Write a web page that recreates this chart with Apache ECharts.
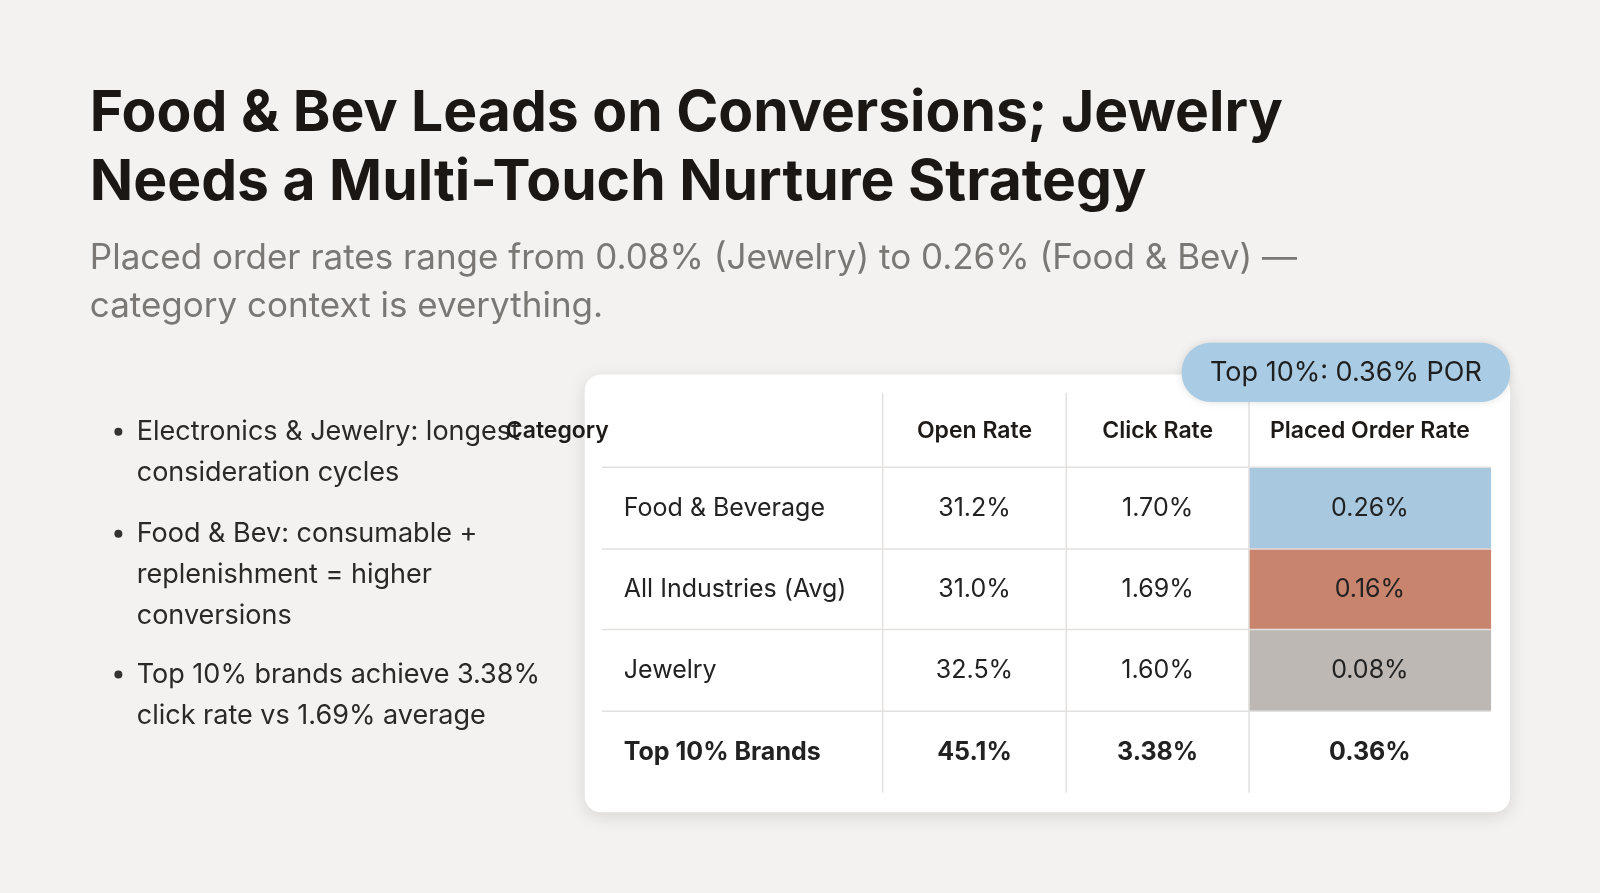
<!DOCTYPE html><html><head><meta charset="utf-8">
<script src="https://cdn.jsdelivr.net/npm/echarts@6/dist/echarts.min.js"></script>
<style>html,body{margin:0;background:#f3f2f0}#c{width:1600px;height:893px}</style></head><body><div id="c"></div>
<script>
const headers=['Category','Open Rate','Click Rate','Placed Order Rate'];
const categories=['Food & Beverage','All Industries (Avg)','Jewelry','Top 10% Brands'];
const openRate=[31.2,31.0,32.5,45.1];
const clickRate=[1.70,1.69,1.60,3.38];
const placedOrderRate=[0.26,0.16,0.08,0.36];
const porColors=['#a8c8df','#c9846d','#bdb8b4','#ffffff'];
const bullets=['Electronics & Jewelry: longest\nconsideration cycles','Food & Bev: consumable +\nreplenishment = higher\nconversions','Top 10% brands achieve 3.38%\nclick rate vs 1.69% average'];
(function(){
const S=1600/1568;
const colBounds=[590,865,1045,1224,1461].map(v=>v*S);
const tTop=458*S,tBot=777*S;
const F='Inter, "Noto Sans", sans-serif';
const chart=echarts.init(document.getElementById('c'));
const cols=[categories,openRate.map(v=>v.toFixed(1)+'%'),clickRate.map(v=>v.toFixed(2)+'%'),placedOrderRate.map(v=>v.toFixed(2)+'%')];
const grids=[],xA=[],yA=[],series=[];
for(let c=0;c<4;c++){
  grids.push({left:colBounds[c],width:colBounds[c+1]-colBounds[c],top:tTop,height:tBot-tTop});
  xA.push({type:'category',gridIndex:c,position:'top',data:[headers[c]],axisLine:{show:false},axisTick:{show:false},
    axisLabel:{margin:25,fontFamily:F,fontSize:23,fontWeight:600,color:'#1d1a18',align:c===0?'left':'center',padding:c===0?[0,0,0,-(colBounds[1]-colBounds[0])+44]:0}});
  yA.push({type:'category',gridIndex:c,inverse:true,data:categories,show:false});
  series.push({type:'heatmap',xAxisIndex:c,yAxisIndex:c,
    data:cols[c].map((t,r)=>({value:[0,r,r],name:t,itemStyle:{color:c===3?porColors[r]:'#ffffff'},
      label:{fontWeight:r===3?700:400}})),
    itemStyle:{borderWidth:0},
    label:{show:true,formatter:p=>p.name,fontFamily:F,fontSize:25,color:'#222',
      position:c===0?'insideLeft':'inside',distance:c===0?22:0},
    emphasis:{disabled:true}});
}
const graphic=[
  {type:'text',left:88*S,top:78*S,style:{text:'Food & Bev Leads on Conversions; Jewelry\nNeeds a Multi-Touch Nurture Strategy',font:'700 57px '+F,fill:'#1b1715',lineHeight:69}},
  {type:'text',left:88*S,top:230*S,style:{text:'Placed order rates range from 0.08% (Jewelry) to 0.26% (Food & Bev) —\ncategory context is everything.',font:'400 35px '+F,fill:'#7a7774',lineHeight:48}},
  {type:'rect',shape:{x:573*S,y:367*S,width:907*S,height:429*S,r:16},style:{fill:'#fff',shadowBlur:18,shadowColor:'rgba(0,0,0,0.12)',shadowOffsetY:4},z:-10},
  {type:'rect',shape:{x:1158*S,y:336*S,width:322*S,height:58*S,r:29},style:{fill:'#a9cbe3',shadowBlur:8,shadowColor:'rgba(0,0,0,0.12)'},z:50},
  {type:'text',x:1319*S,y:365*S,style:{text:'Top 10%: 0.36% POR',font:'400 27px '+F,fill:'#1f1f1f',align:'center',verticalAlign:'middle'},z:51}
];
[458,538,617,697].forEach(y=>graphic.push({type:'line',shape:{x1:590*S,y1:y*S,x2:1461*S,y2:y*S},style:{stroke:'#e3e1df',lineWidth:1.5},z:20}));
[865,1045,1224].forEach(x=>graphic.push({type:'line',shape:{x1:x*S,y1:385*S,x2:x*S,y2:777*S},style:{stroke:'#e3e1df',lineWidth:1.5},z:20}));
const by=[423,523,661];
bullets.forEach((b,i)=>{
  graphic.push({type:'circle',shape:{cx:116*S,cy:by[i]*S,r:4},style:{fill:'#333'}});
  graphic.push({type:'text',left:134*S,top:by[i]*S-20,style:{text:b,font:'400 27px '+F,fill:'#2b2826',lineHeight:41}});
});
chart.setOption({backgroundColor:'#f3f2f0',grid:grids,xAxis:xA,yAxis:yA,series:series,graphic:graphic,animation:false});
})();
</script></body></html>
